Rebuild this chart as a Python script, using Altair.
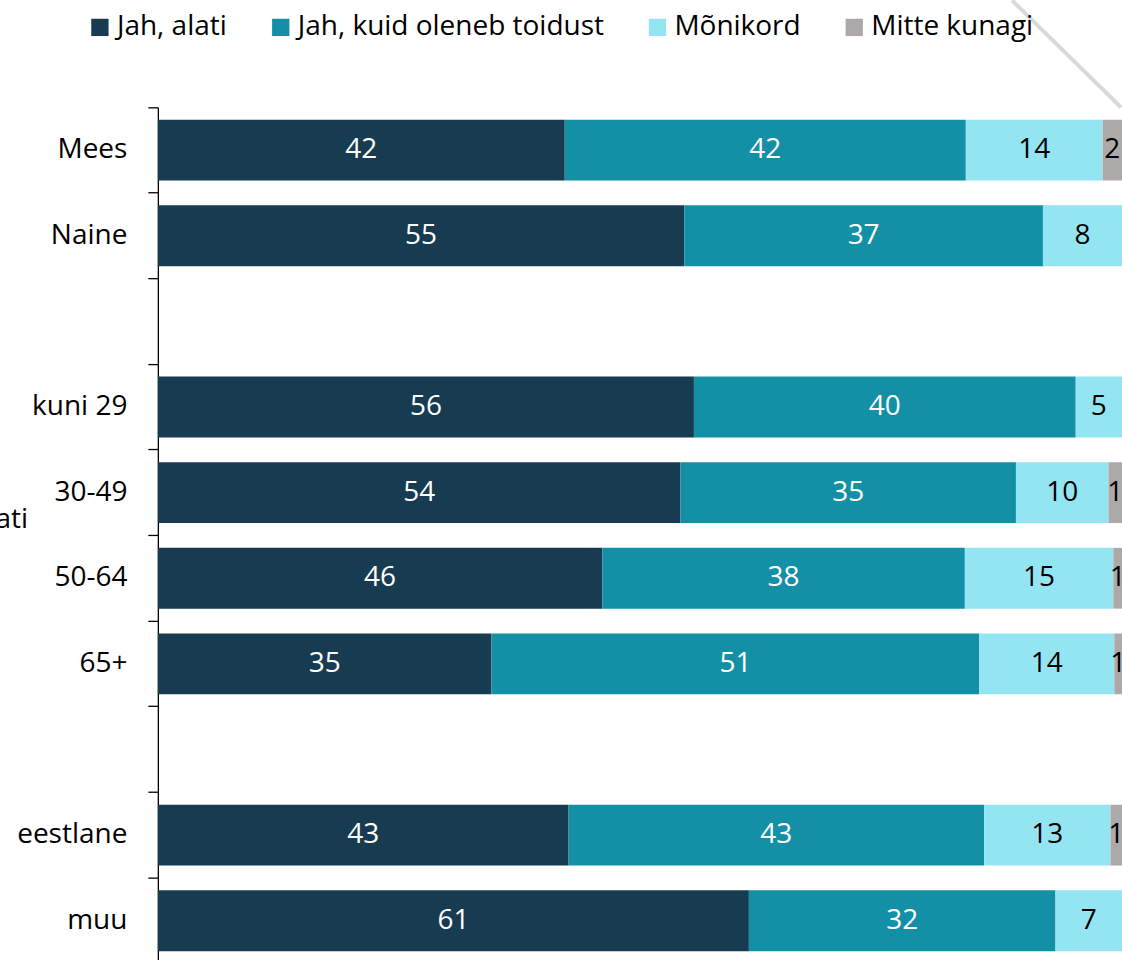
import altair as alt
import pandas as pd

categories = ["Mees", "Naine", "blank1", "kuni 29", "30-49", "50-64", "65+", "blank2", "eestlane", "muu"]
series = ["Jah, alati", "Jah, kuid oleneb toidust", "Mõnikord", "Mitte kunagi"]
colors = ["#173B50", "#1490A6", "#94E5F2", "#AEA9A9"]
text_colors = ["white", "white", "black", "black"]

rows = ["Mees", "Naine", "kuni 29", "30-49", "50-64", "65+", "eestlane", "muu"]
jah_alati = [42.2, 54.6, 55.6, 54.2, 46.1, 34.6, 42.6, 61.3]
jah_kuid = [41.6, 37.2, 39.6, 34.8, 37.6, 50.6, 43.1, 31.8]
monikord = [14.2, 8.2, 4.8, 9.6, 15.4, 14.0, 13.1, 6.9]
mitte_kunagi = [2.0, 0.0, 0.0, 1.4, 0.9, 0.8, 1.2, 0.0]

recs = []
for i, r in enumerate(rows):
    start = 0.0
    for s_idx, vals in enumerate([jah_alati, jah_kuid, monikord, mitte_kunagi]):
        v = vals[i]
        if v > 0:
            recs.append({
                "cat": r, "series": series[s_idx], "order": s_idx,
                "start": start, "end": start + v, "mid": start + v / 2,
                "value": v, "tcolor": text_colors[s_idx],
            })
        start += v
df = pd.DataFrame(recs)

FONT = "Open Sans"
FS = 28

yscale = alt.Scale(domain=categories, paddingInner=0, paddingOuter=0)
xscale = alt.Scale(domain=[0, 100], nice=False, zero=True)

yaxis = alt.Axis(
    title=None, bandPosition=0, tickSize=10, labelPadding=21, grid=False,
    labelFont=FONT, labelFontSize=FS, labelColor="black",
    domainColor="black", tickColor="black", domainWidth=1.3, tickWidth=1.3,
    labelExpr="indexof(datum.label, 'blank') >= 0 ? '' : datum.label",
)

bars = alt.Chart(df).mark_bar(height=alt.RelativeBandSize(0.71)).encode(
    y=alt.Y("cat:N", scale=yscale, axis=yaxis, sort=None),
    x=alt.X("start:Q", scale=xscale, axis=None),
    x2="end:Q",
    color=alt.Color(
        "series:N",
        scale=alt.Scale(domain=series, range=colors),
        legend=alt.Legend(
            title=None, orient="none", direction="horizontal", columns=4,
            legendX=-72, legendY=-94, symbolType="square", symbolSize=300,
            symbolStrokeWidth=0, labelFont=FONT, labelFontSize=28,
            labelColor="black", labelOffset=3, columnPadding=39, labelLimit=0,
        ),
    ),
)

labels = alt.Chart(df).mark_text(font=FONT, fontSize=FS, baseline="middle", align="center").encode(
    y=alt.Y("cat:N", scale=yscale, sort=None),
    x=alt.X("mid:Q", scale=xscale),
    text=alt.Text("value:Q", format=".0f"),
    color=alt.Color("tcolor:N", scale=None),
)

one = pd.DataFrame({"a": [0]})
diag = alt.Chart(one).mark_rule(color="#D9D9D9", strokeWidth=4).encode(
    x=alt.value(855), x2=alt.value(964), y=alt.value(-107), y2=alt.value(0)
)
side = alt.Chart(one).mark_text(font=FONT, fontSize=FS, align="right", baseline="middle", color="black").encode(
    x=alt.value(-130), y=alt.value(413), text=alt.value("ati")
)

chart = alt.layer(bars, labels, diag, side).properties(
    width=965, height=857,
    autosize=alt.AutoSizeParams(type="none"),
    padding={"left": 158, "top": 107, "right": 0, "bottom": 0},
    background="white",
).configure_view(stroke=None)

chart.save("out.html", embed_options={"renderer": "svg", "actions": False})
